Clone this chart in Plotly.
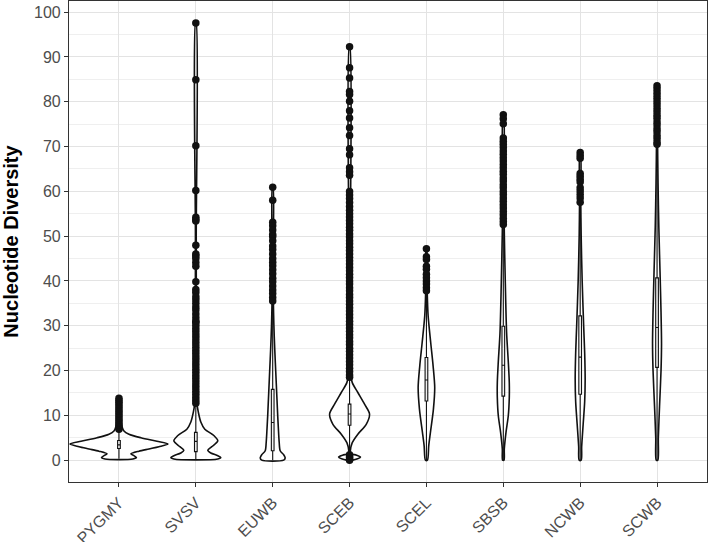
import plotly.graph_objects as go

# categories along the x axis
groups = ['PYGMY', 'SVSV', 'EUWB', 'SCEB', 'SCEL', 'SBSB', 'NCWB', 'SCWB']

# violin outlines: y levels and half-widths (relative density)
pygmy_y = [0.25, 0.6, 1.0, 1.4, 2.0, 2.5, 3.0, 3.6, 4.2, 5.0, 5.8, 6.5, 7.5, 9.0, 11.0, 13.8]
pygmy_w = [14, 17.5, 15, 12, 20, 30, 40, 49, 38, 22, 10, 5, 3, 2, 1.5, 0.5]
svsv_y = [0.25, 0.6, 1.0, 1.6, 2.2, 3.0, 4.3, 5.5, 6.9, 8.5, 10.7, 12.5, 20, 30, 50, 97.6]
svsv_w = [22, 25, 22, 15, 12, 16, 22, 18, 9, 5, 2.5, 1.2, 0.6, 0.5, 0.4, 0.3]
euwb_y = [0.0, 0.5, 1.2, 2.1, 4, 7, 10, 15, 20, 25, 30, 35, 45, 60.9]
euwb_w = [11, 12.5, 11, 7.5, 6.5, 5.7, 5, 4, 3, 2, 1.2, 0.7, 0.4, 0.3]
sceb_y = [0.0, 0.3, 0.7, 1.1, 1.5, 2.1, 3.9, 5.8, 8.0, 10.3, 12.5, 15.1, 17.3, 19, 25, 40, 92.3]
sceb_w = [3, 8, 11, 7, 1, 0.8, 2.7, 8.3, 16.7, 20, 15, 8.3, 2.7, 1.2, 0.6, 0.4, 0.3]
scel_y = [0.0, 3.2, 6.2, 11.4, 16.2, 21, 26.2, 32.2, 37.4, 42, 47.2]
scel_w = [1, 2.3, 4, 7, 8.3, 6.7, 4.3, 1.7, 0.8, 0.5, 0.3]
sbsb_y = [0.0, 2.5, 6.2, 9.9, 14, 17.3, 22, 28.5, 39.7, 50.8, 60, 77.1]
sbsb_w = [0.7, 1, 2.7, 5, 6, 6, 5, 3.3, 2, 1, 0.6, 0.3]
ncwb_y = [0, 3, 8, 13, 18, 24, 30, 40, 50, 58, 68.7]
ncwb_w = [1, 1.5, 3, 4.5, 5, 4.5, 3.5, 2, 1, 0.6, 0.3]
scwb_y = [0, 5, 12, 20, 26, 33, 42, 52, 62, 72, 83.6]
scwb_w = [0.8, 1.3, 2.5, 4, 4.5, 4, 3, 1.8, 1, 0.5, 0.3]

# box statistics per group
lower = [0.3, 0.2, 0.0, 1.5, 0.0, 0.0, 0.0, 0.0]
q1 = [2.6, 1.9, 2.1, 7.8, 13.2, 14.3, 14.7, 20.7]
med = [3.4, 4.2, 8.4, 10.3, 17.9, 21.2, 23.0, 29.6]
q3 = [4.4, 6.2, 15.8, 12.5, 22.9, 29.9, 32.2, 40.7]
upper = [6.8, 12.5, 35.0, 18.3, 37.4, 52.5, 57.5, 70.4]

# outliers
pygmy_out = [6.9, 7.4, 7.9, 8.4, 8.9, 9.4, 9.9, 10.4, 10.9, 11.4, 11.9, 12.4, 12.9, 13.3, 13.8]
svsv_out = [97.6, 84.9, 70.2, 60.2, 54.2, 53.7, 53.4, 48.0, 46.0, 45.6, 45.0, 44.1, 43.3,
            39.8, 38.1, 37.4, 36.5, 35.8, 35.0, 34.2, 33.5, 32.6, 31.8, 31.0,
            30.8, 30.1, 29.4, 28.7, 28.0, 27.3, 26.6, 25.9, 25.2, 24.5, 23.8, 23.1, 22.4,
            21.7, 21.0, 20.3, 19.6, 18.9, 18.2, 17.5, 16.8, 16.1, 15.4, 14.7, 14.0, 13.3, 12.7]
euwb_out = [60.9, 58.0, 53.1, 52.3, 51.4, 50.4, 49.9, 49.0, 47.8, 47.0, 46.0, 45.0, 44.2,
            43.4, 42.5, 41.6, 40.6, 39.8, 38.9, 38.0, 37.2, 36.3, 35.5]
sceb_out = [92.3, 87.6, 85.3, 82.3, 81.6, 80.1, 78.0, 76.4, 74.2, 72.5, 69.5, 68.2, 65.3,
            64.4, 63.6, 60.0, 59.2, 58.4, 57.5, 56.6, 55.8,
            55.0, 54.3, 53.5, 52.8, 52.0, 51.3, 50.5, 49.8, 49.0, 48.3, 47.5, 46.8, 46.0,
            45.3, 44.5, 43.8, 43.0, 42.3, 41.5, 40.8, 40.0, 39.3, 38.5, 37.8, 37.0, 36.3,
            35.5, 34.8, 34.0, 33.3, 32.5, 31.8, 31.0, 30.3, 29.5, 28.8, 28.0, 27.3, 26.5,
            25.8, 25.0, 24.3, 23.5, 22.8, 22.0, 21.3, 20.5, 19.8, 19.0, 18.5,
            1.2, 0.9, 0.6, 0.3, 0.0]
scel_out = [47.2, 45.4, 44.8, 43.3, 42.6, 41.5, 40.7, 40.0, 39.3, 38.5, 37.8]
sbsb_out = [77.1, 76.2, 75.1, 71.9, 71.2, 70.5, 69.8, 69.0, 68.3, 67.5, 66.8, 66.0, 65.3,
            64.5, 63.8, 63.0, 62.3, 61.5, 60.8, 60.0, 59.3, 58.5, 57.8, 57.0, 56.3, 55.5,
            54.8, 54.0, 53.3, 52.6]
ncwb_out = [68.7, 68.0, 67.4, 64.0, 63.4, 62.7, 62.1, 60.8, 60.1, 59.3, 58.5, 57.6]
scwb_out = [83.6, 82.9, 82.2, 81.5, 80.8, 80.0, 79.3, 78.5, 77.8, 77.0, 76.3, 75.5, 74.8,
            74.0, 73.3, 72.5, 71.8, 71.0, 70.5]

violins = [(pygmy_y, pygmy_w), (svsv_y, svsv_w), (euwb_y, euwb_w), (sceb_y, sceb_w),
           (scel_y, scel_w), (sbsb_y, sbsb_w), (ncwb_y, ncwb_w), (scwb_y, scwb_w)]
outliers = [pygmy_out, svsv_out, euwb_out, sceb_out, scel_out, sbsb_out, ncwb_out, scwb_out]

scale = 1 / 77.0  # density units -> category width

fig = go.Figure()

# boxes (vertical, from precomputed stats) - box layer sits under scatter anyway
fig.add_trace(go.Box(x=list(range(len(groups))), q1=q1, median=med, q3=q3,
                     lowerfence=lower, upperfence=upper, orientation='v',
                     width=0.035, whiskerwidth=0,
                     fillcolor='#F2F2F2', line=dict(color='#111111', width=1.1),
                     boxpoints=False, showlegend=False))

# violin outlines, no fill so the boxes show through
for i, (ys, ws) in enumerate(violins):
    xs = [i + w * scale for w in ws] + [i - w * scale for w in ws[::-1]]
    yy = list(ys) + list(ys[::-1])
    xs.append(xs[0])
    yy.append(yy[0])
    fig.add_trace(go.Scatter(x=xs, y=yy, mode='lines',
                             line=dict(color='#111111', width=1.6, shape='spline', smoothing=0.8),
                             hoverinfo='skip', showlegend=False))

# outlier points
for i, pts in enumerate(outliers):
    fig.add_trace(go.Scatter(x=[i] * len(pts), y=pts, mode='markers',
                             marker=dict(color='#111111', size=7.5),
                             showlegend=False))

axis_font = dict(family='Liberation Sans, Arial, sans-serif', size=16, color='#4D4D4D')
fig.update_layout(
    width=709, height=542,
    margin=dict(l=69, r=2, t=1, b=60),
    plot_bgcolor='white', paper_bgcolor='white',
    font=dict(family='Liberation Sans, Arial, sans-serif'),
    xaxis=dict(range=[-0.65, 7.65], tickvals=list(range(len(groups))), ticktext=groups,
               tickangle=-45, tickfont=axis_font, showgrid=True, gridcolor='#E3E3E3',
               ticks='outside', ticklen=4, tickcolor='#333333', showline=True,
               linecolor='#333333', linewidth=1.2, mirror=True, zeroline=False,
               automargin=False),
    yaxis=dict(range=[-4.88, 102.5], dtick=10, tick0=0, tickfont=axis_font,
               showgrid=True, gridcolor='#E3E3E3',
               minor=dict(dtick=5, showgrid=True, gridcolor='#EFEFEF'),
               ticks='outside', ticklen=4, tickcolor='#333333', showline=True,
               linecolor='#333333', linewidth=1.2, mirror=True, zeroline=False,
               automargin=False,
               title=dict(text='Nucleotide Diversity', standoff=12,
                          font=dict(size=20, color='black', weight='bold'))),
)

# drop the page's default body margin so the figure sits at the window corner
fig.write_html('out.html', config={'displayModeBar': False},
               post_script="document.body.style.margin='0';")
